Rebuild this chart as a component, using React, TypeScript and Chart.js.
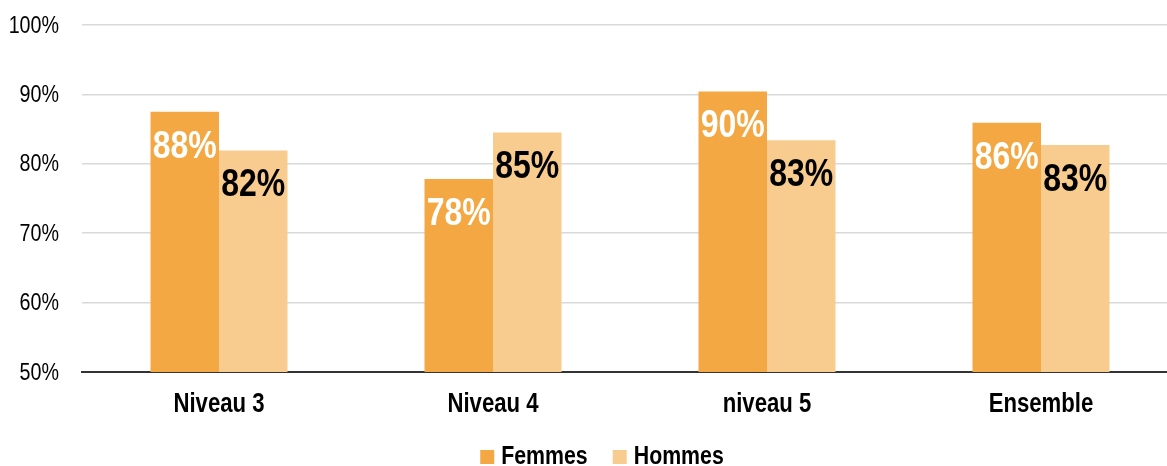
import React, { useEffect, useRef } from "react";
import { Chart, registerables } from "chart.js";

Chart.register(...registerables);

const categories = ["Niveau 3", "Niveau 4", "niveau 5", "Ensemble"];
const seriesNames = ["Femmes", "Hommes"];
const femmes = [87.5, 77.8, 90.4, 85.9];
const hommes = [81.9, 84.5, 83.4, 82.7];
const femmesLabels = ["88%", "78%", "90%", "86%"];
const hommesLabels = ["82%", "85%", "83%", "83%"];
const yTicks = [50, 60, 70, 80, 90, 100];
const colors = ["#F4A843", "#F8CB8E"];

const FONT = "'Liberation Sans', Arial, sans-serif";
const SX = 0.82; // horizontal condensing to mimic Arial Narrow

function narrowText(ctx: CanvasRenderingContext2D, t: string, x: number, y: number) {
  ctx.save();
  ctx.translate(x, y);
  ctx.scale(SX, 1);
  ctx.fillText(t, 0, 0);
  ctx.restore();
}

const textPlugin = {
  id: "narrowTexts",
  afterDatasetsDraw(chart: any) {
    const ctx: CanvasRenderingContext2D = chart.ctx;
    const xs = chart.scales.x;
    const ys = chart.scales.y;
    ctx.save();
    // bar value labels
    ctx.font = `bold 39px ${FONT}`;
    ctx.textAlign = "center";
    ctx.textBaseline = "middle";
    chart.data.datasets.forEach((ds: any, di: number) => {
      const meta = chart.getDatasetMeta(di);
      const labels = di === 0 ? femmesLabels : hommesLabels;
      ctx.fillStyle = di === 0 ? "#ffffff" : "#000000";
      meta.data.forEach((bar: any, i: number) => {
        narrowText(ctx, labels[i], bar.x, bar.y + 35);
      });
    });
    // y tick labels
    ctx.fillStyle = "#000";
    ctx.font = `24px ${FONT}`;
    ctx.textAlign = "right";
    yTicks.forEach((v) => {
      narrowText(ctx, v + "%", chart.chartArea.left - 23, ys.getPixelForValue(v) + 1);
    });
    // x category labels
    ctx.font = `bold 27px ${FONT}`;
    ctx.textAlign = "center";
    categories.forEach((c, i) => {
      narrowText(ctx, c, xs.getPixelForValue(i), chart.chartArea.bottom + 33);
    });
    // legend
    ctx.font = `bold 26px ${FONT}`;
    ctx.textAlign = "left";
    const box = 14, gap = 7, itemGap = 25;
    const widths = seriesNames.map((n) => ctx.measureText(n).width * SX);
    const total = widths.reduce((a, w) => a + box + gap + w, 0) + itemGap;
    let x = 602 - total / 2;
    const ly = 456;
    seriesNames.forEach((n, i) => {
      ctx.fillStyle = colors[i];
      ctx.fillRect(x, ly - 6, box, box);
      ctx.fillStyle = "#000";
      narrowText(ctx, n, x + box + gap, ly + 1);
      x += box + gap + widths[i] + itemGap;
    });
    ctx.restore();
  },
};

export default function App() {
  const ref = useRef<HTMLCanvasElement>(null);
  useEffect(() => {
    document.body.style.margin = "0";
    const chart = new Chart(ref.current!, {
      type: "bar",
      data: {
        labels: categories,
        datasets: [
          { label: seriesNames[0], data: femmes, backgroundColor: colors[0] },
          { label: seriesNames[1], data: hommes, backgroundColor: colors[1] },
        ],
      },
      options: {
        animation: false,
        responsive: false,
        maintainAspectRatio: false,
        layout: { padding: { top: 25, right: 2, left: 0, bottom: 0 } },
        datasets: { bar: { categoryPercentage: 0.5, barPercentage: 1 } },
        scales: {
          x: {
            afterFit: (s: any) => { s.height = 94; },
            grid: { display: false, drawTicks: false },
            border: { display: true, color: "#333333", width: 2 },
            ticks: { display: false },
          },
          y: {
            min: 50,
            max: 100,
            afterFit: (s: any) => { s.width = 82; },
            border: { display: false },
            grid: { color: "#d9d9d9", lineWidth: 1.5, drawTicks: false },
            ticks: { stepSize: 10, display: false },
          },
        },
        plugins: {
          legend: { display: false },
          tooltip: { enabled: false },
        },
      },
      plugins: [textPlugin],
    });
    return () => chart.destroy();
  }, []);
  return (
    <div style={{ width: 1167, height: 466, overflow: "hidden" }}>
      <canvas ref={ref} width={1180} height={466} style={{ display: "block" }} />
    </div>
  );
}
